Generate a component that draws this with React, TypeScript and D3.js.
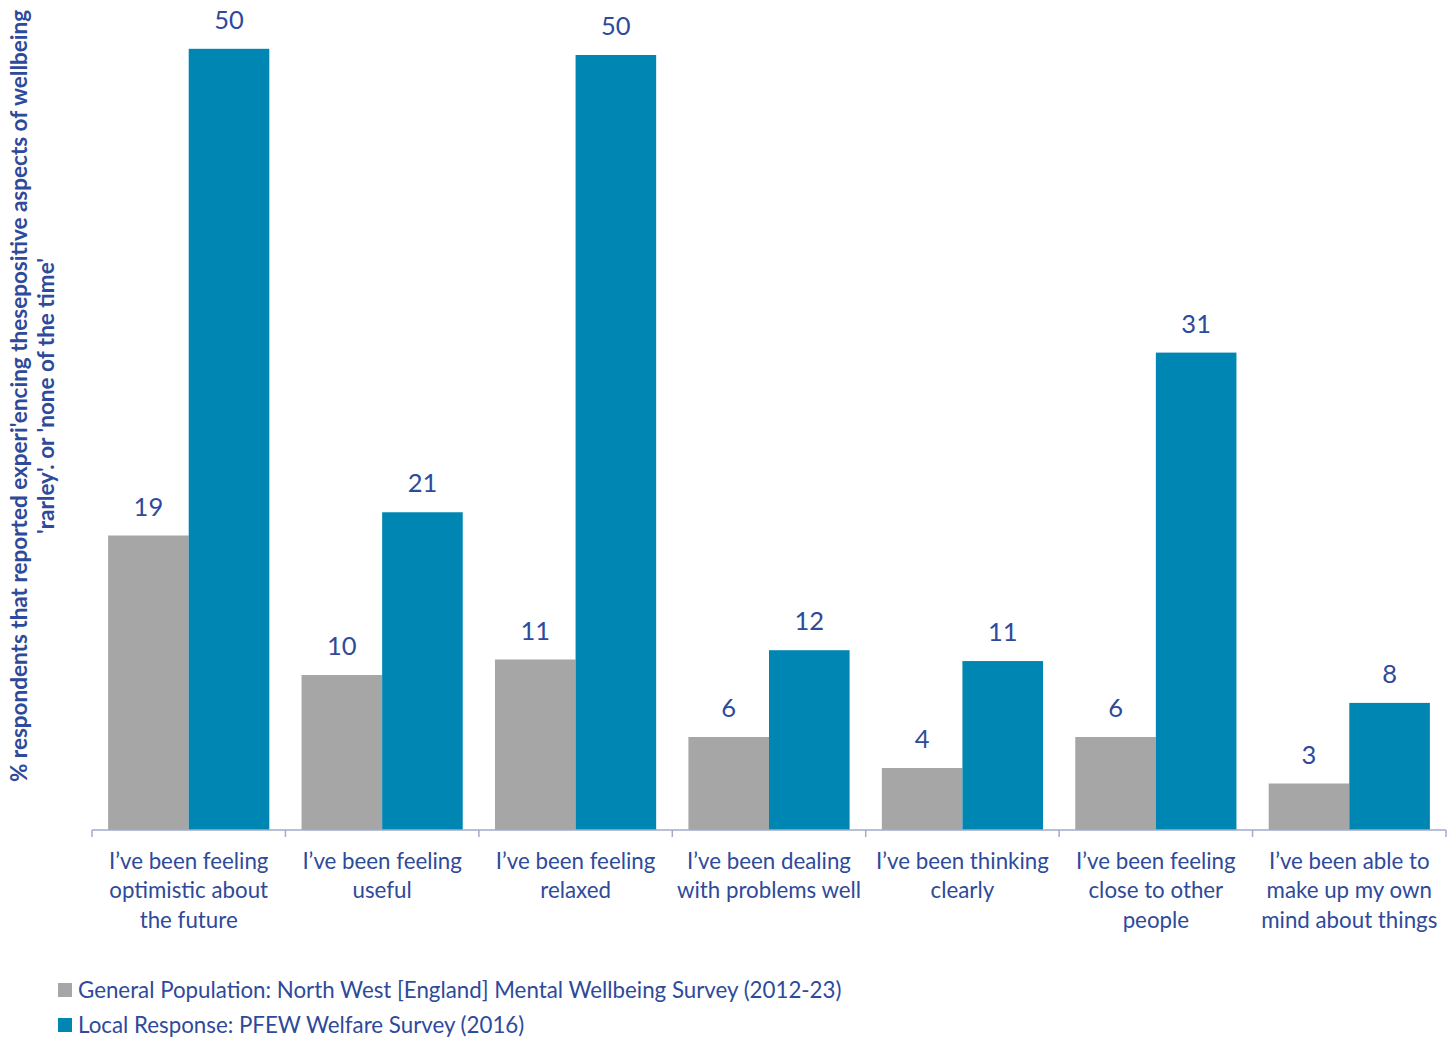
import React from "react";
import * as d3 from "d3";

const categories: string[][] = [
  ["I’ve been feeling", "optimistic about", "the future"],
  ["I’ve been feeling", "useful"],
  ["I’ve been feeling", "relaxed"],
  ["I’ve been dealing", "with problems well"],
  ["I’ve been thinking", "clearly"],
  ["I’ve been feeling", "close to other", "people"],
  ["I’ve been able to", "make up my own", "mind about things"],
];
const generalPopulation: number[] = [19, 10, 11, 6, 4, 6, 3];
const localResponse: number[] = [50.4, 20.5, 50, 11.6, 10.9, 30.8, 8.2];
const seriesNames: string[] = [
  "General Population: North West [England] Mental Wellbeing Survey (2012-23)",
  "Local Response: PFEW Welfare Survey (2016)",
];
const yTitle: string[] = [
  "% respondents that reported experi'encing thesepositive aspects of wellbeing",
  "'rarley'. or 'none of the time'",
];

const W = 1456;
const H = 1038;
const TEXT = "#2E4A9A";
const GRAY = "#A6A6A6";
const BLUE = "#0086B2";
const FONT = "Lato, 'Open Sans', sans-serif";

export default function App() {
  const x0 = 92;
  const x1 = 1446;
  const baseY = 830;
  const x = d3
    .scaleBand<number>()
    .domain(d3.range(categories.length))
    .range([x0, x1])
    .paddingInner(0)
    .paddingOuter(0);
  const inner = d3
    .scaleBand<number>()
    .domain([0, 1])
    .range([0, x.bandwidth()])
    .paddingInner(0)
    .paddingOuter(0.2);
  const y = d3.scaleLinear().domain([0, 50]).range([baseY, baseY - 775]);
  const series = [generalPopulation, localResponse];
  const colors = [GRAY, BLUE];
  const ticks = d3.range(categories.length + 1).map((i) => x0 + i * x.step());

  return (
    <svg
      width={W}
      height={H}
      style={{ position: "absolute", left: 0, top: 0, background: "#fff" }}
      fontFamily={FONT}
    >
      {series.map((vals, si) =>
        vals.map((v, ci) => {
          const bx = (x(ci) as number) + (inner(si) as number);
          const by = y(v);
          return (
            <g key={`${si}-${ci}`}>
              <rect
                x={bx}
                y={by}
                width={inner.bandwidth()}
                height={baseY - by}
                fill={colors[si]}
              />
              <text
                x={bx + inner.bandwidth() / 2}
                y={by - 20}
                textAnchor="middle"
                fontSize={25.5}
                fill={TEXT}
              >
                {d3.format(".0f")(v)}
              </text>
            </g>
          );
        })
      )}
      <line x1={x0} x2={x1} y1={baseY} y2={baseY} stroke="#A3AACB" strokeWidth={1.5} />
      {ticks.map((t, i) => (
        <line key={i} x1={t} x2={t} y1={baseY} y2={baseY + 7} stroke="#A3AACB" strokeWidth={1.5} />
      ))}
      {categories.map((lines, ci) => (
        <text
          key={ci}
          x={(x(ci) as number) + x.bandwidth() / 2}
          textAnchor="middle"
          fontSize={22.3}
          fill={TEXT}
        >
          {lines.map((l, li) => (
            <tspan key={li} x={(x(ci) as number) + x.bandwidth() / 2} y={868.5 + li * 29.5}>
              {l}
            </tspan>
          ))}
        </text>
      ))}
      <g transform="translate(0,396) rotate(-90)">
        {yTitle.map((t, i) => (
          <text
            key={i}
            x={0}
            y={27 + i * 27}
            textAnchor="middle"
            fontSize={22.5}
            fontWeight="bold"
            fill={TEXT}
          >
            {t}
          </text>
        ))}
      </g>
      {seriesNames.map((n, i) => (
        <g key={i} transform={`translate(58,${990 + i * 35})`}>
          <rect x={0} y={-7} width={14} height={14} fill={colors[i]} />
          <text x={20} y={7.5} fontSize={22.3} fill={TEXT}>
            {n}
          </text>
        </g>
      ))}
    </svg>
  );
}
